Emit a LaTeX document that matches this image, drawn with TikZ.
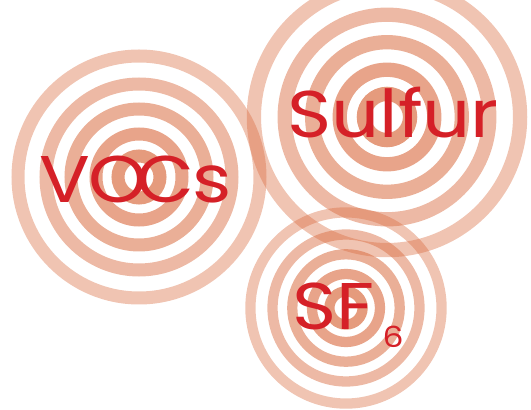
\documentclass[tikz,border=0pt]{standalone}
\usepackage{fontspec}
\newfontfamily\gasfont[FakeStretch=1.14]{Poppins}
\usetikzlibrary{positioning}
\definecolor{ringfill}{RGB}{217,107,63}
\definecolor{gasred}{RGB}{213,32,39}
\tikzset{
  ring/.style={draw=ringfill,fill=none},
  gas/.style={text=gasred,inner sep=0pt,anchor=base west,font=\gasfont\fontsize{66}{66}\selectfont},
  subgas/.style={text=gasred,inner sep=0pt,anchor=base west,font=\gasfont\fontsize{29}{29}\selectfont}
}

\begin{document}
\begin{tikzpicture}[x=1pt,y=1pt]
  \useasboundingbox (0,0) rectangle (531,410);
  % centres of the three targets
  \coordinate (cv) at (139,233);
  \coordinate (cs) at (387,293);
  \coordinate (cf) at (346,102);
  \foreach \c/\s in {cv/1,cs/1.1,cf/0.79}{
    \foreach \r/\o in {121/0.40,93/0.47,68/0.54,43/0.61,21/0.68}
      \draw[ring,draw opacity=\o,line width=\s*13pt] (\c) circle[radius=\r*\s];
  }
  \node[gas] (vocs) at (39,207) {V\kern-2ptO\kern-11ptC\kern-2pts};
  \node[gas] (sulfur) at (287,272) {Sulfur};
  \node[gas] (sf) at (292,80) {SF};
  \node[subgas] (six) at ([xshift=8pt,yshift=-18pt]sf.base east) {6};
\end{tikzpicture}
\end{document}
